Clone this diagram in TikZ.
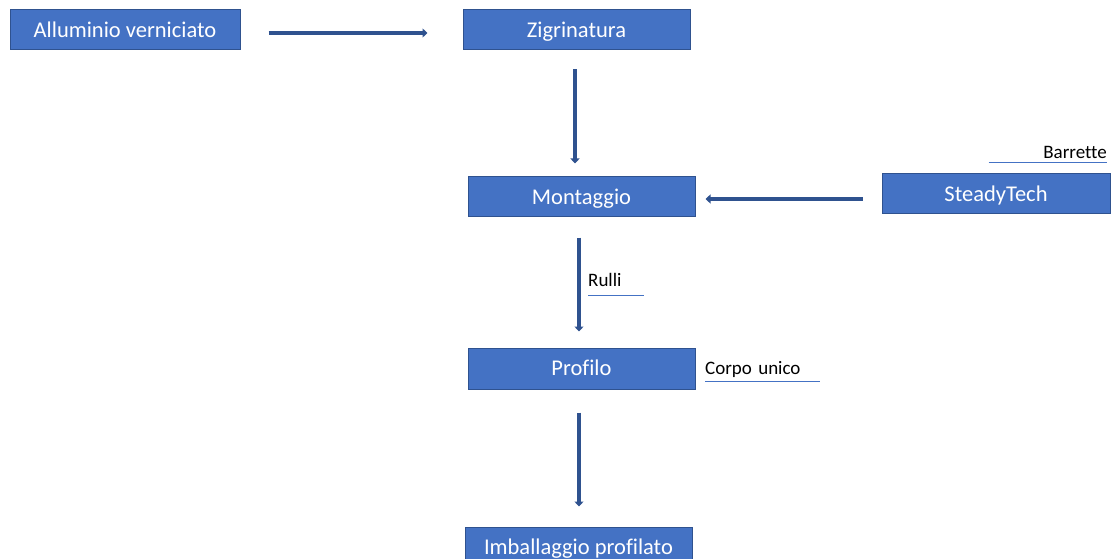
\documentclass[tikz,border=0pt]{standalone}
\usepackage{fontspec}
\setmainfont[Ligatures=NoCommon]{Carlito}
\usetikzlibrary{arrows.meta}
\definecolor{boxfill}{HTML}{4472C4}
\definecolor{boxdraw}{HTML}{2F528F}
\definecolor{arrcol}{HTML}{2F528F}
\definecolor{ulcol}{HTML}{4472C4}
\tikzset{
  procbox/.style={draw=boxdraw, fill=boxfill, line width=1pt, text=white,
    minimum width=227pt, minimum height=40pt, inner sep=0pt,
    text height=14.5pt, text depth=0pt,
    font=\fontsize{22.5}{26}\selectfont},
  flowarr/.style={draw=arrcol, line width=3.5pt, -{Triangle[width=9pt,length=5pt]}},
  lab/.style={inner sep=0pt, text=black, font=\fontsize{19}{22}\selectfont},
  uline/.style={draw=ulcol, line width=1pt}
}
\begin{document}
\begin{tikzpicture}[x=1pt,y=-1pt]
\useasboundingbox (0,0) rectangle (1112,559);
\node[procbox, minimum width=230pt] (alu) at (125,30) {Alluminio verniciato};
\node[procbox] (zig) at (576.5,30) {Zigrinatura};
\node[procbox] (mon) at (581.5,197) {Montaggio};
\node[procbox, minimum width=228pt] (std) at (996,194) {SteadyTech};
\node[procbox, minimum height=41pt] (pro) at (581.5,368.5) {Profilo};
\node[procbox] (imb) at (578.5,547) {Imballaggio profilato};

\draw[flowarr, shorten <=28pt, shorten >=35pt] ([yshift=-3pt]alu.east) -- ([yshift=-3pt]zig.west);
\draw[flowarr, shorten <=19pt, shorten >=13pt] ([xshift=-1.5pt]zig.south) -- ([xshift=-1.5pt]zig.south |- mon.north);
\draw[flowarr, shorten <=19pt, shorten >=10pt] ([yshift=-5pt]std.west) -- ([yshift=-5pt]std.west -| mon.east);
\draw[flowarr, shorten <=20pt, shorten >=16pt] ([xshift=-2.5pt]mon.south) -- ([xshift=-2.5pt]mon.south |- pro.north);
\draw[flowarr, shorten <=23pt, shorten >=20pt] ([xshift=-2.5pt]pro.south) -- ([xshift=-2.5pt]pro.south |- imb.north);

\node[lab, text width=118pt, align=right, anchor=base east] (bar) at (1107,159) {Barrette};
\draw[uline] ([yshift=-4pt]bar.base west) -- ([yshift=-4pt]bar.base east);
\node[lab, text width=56pt, align=left, anchor=base west] (rul) at (588,286) {Rulli};
\draw[uline] ([yshift=-9pt]rul.base west) -- ([yshift=-9pt]rul.base east);
\node[lab, text width=115pt, align=left, anchor=base west] (cor) at (705,374) {Corpo\ unico};
\draw[uline] ([yshift=-7pt]cor.base west) -- ([yshift=-7pt]cor.base east);
\end{tikzpicture}
\end{document}
